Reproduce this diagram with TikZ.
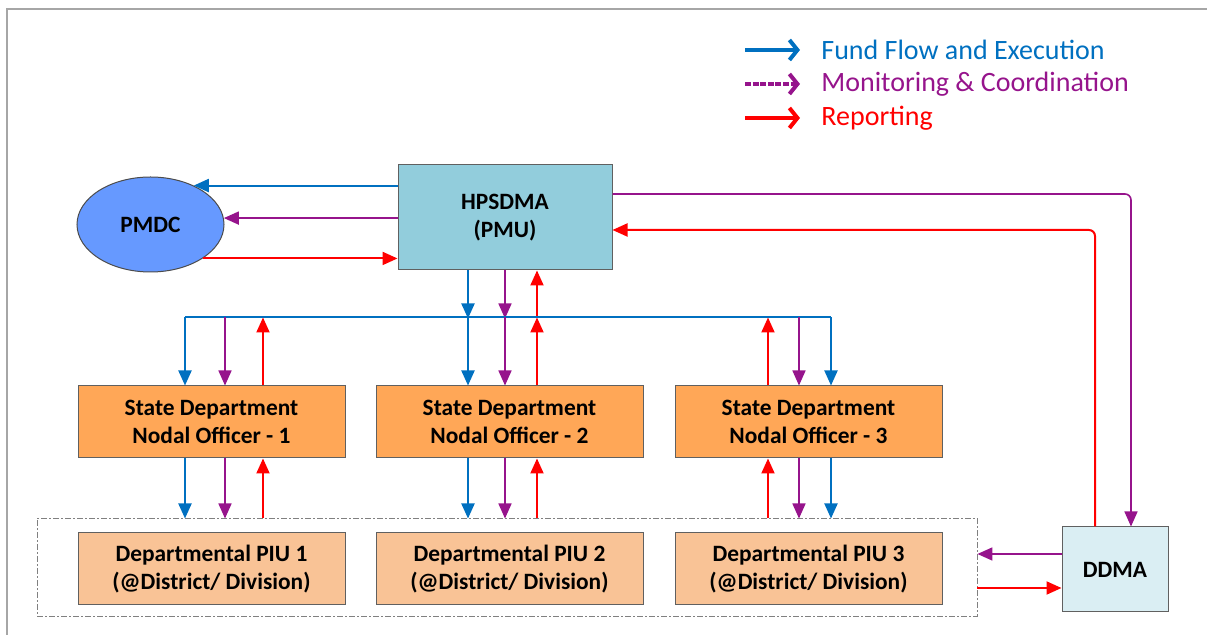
\documentclass[tikz,border=0pt]{standalone}
\usepackage{fontspec}
\setmainfont{Carlito}
\usetikzlibrary{arrows.meta,shapes.geometric}

\definecolor{fundblue}{RGB}{0,112,192}
\definecolor{monpurple}{RGB}{150,20,140}
\definecolor{repred}{RGB}{255,0,0}
\definecolor{pmublue}{RGB}{146,205,220}
\definecolor{pmdcblue}{RGB}{102,153,255}
\definecolor{sdorange}{RGB}{255,167,87}
\definecolor{piupeach}{RGB}{249,195,150}
\definecolor{ddmablue}{RGB}{218,238,243}

\tikzset{
  boxfont/.style={font=\fontsize{11.7}{14}\selectfont\bfseries},
  box/.style={draw=gray!75!black, line width=0.5pt, boxfont, align=center,
    inner sep=0pt, minimum width=133.5pt, minimum height=36pt},
  sdbox/.style={box, fill=sdorange},
  piubox/.style={box, fill=piupeach},
  pmubox/.style={box, fill=pmublue, minimum width=107pt, minimum height=52.5pt},
  ddmabox/.style={box, fill=ddmablue, minimum width=53pt, minimum height=42.5pt},
  pmdcell/.style={ellipse, draw=gray!60!black, line width=0.5pt, fill=pmdcblue,
    boxfont, inner sep=0pt, minimum width=73.5pt, minimum height=47.5pt},
  grpbox/.style={draw=gray, line width=0.4pt,
    dash pattern=on 3pt off 1.2pt on 0.6pt off 1.2pt,
    inner sep=0pt, minimum width=470pt, minimum height=49pt},
  flow/.style={line width=1pt, -{Triangle[length=7.5pt,width=6.5pt]}},
  fund/.style={flow, fundblue},
  mon/.style={flow, monpurple, line width=0.8pt},
  rep/.style={flow, repred},
  legtext/.style={anchor=west, inner sep=0pt, font=\fontsize{14}{16}\selectfont},
  legarrow/.style={line width=2pt, -{Straight Barb[length=4pt,width=10pt]}},
}

\begin{document}
\begin{tikzpicture}[x=0.5pt,y=-0.5pt]
\useasboundingbox (0,0) rectangle (1207,635);
\draw[gray!70, line width=1pt] (1207,9) -- (7,9) -- (7,635);

% legend
\node[legtext, text=fundblue] (lgfund) at (821,50) {Fund Flow and Execution};
\node[legtext, text=monpurple] (lgmon) at (821,84) {Monitoring \& Coordination};
\node[legtext, text=repred] (lgrep) at (821,118) {Reporting};
\draw[legarrow, fundblue] ([xshift=-38pt]lgfund.west) -- ([xshift=-10.5pt]lgfund.west);
\draw[legarrow, monpurple, dash pattern=on 3pt off 0.8pt] ([xshift=-38pt]lgmon.west) -- ([xshift=-10.5pt]lgmon.west);
\draw[legarrow, repred] ([xshift=-38pt]lgrep.west) -- ([xshift=-10.5pt]lgrep.west);

% boxes
\node[pmubox] (pmu) at (505,217.5) {HPSDMA\\(PMU)};
\node[pmdcell] (pmdc) at (150.5,224.5) {PMDC};
\node[grpbox] (grp) at (507,567) {};
\foreach \i/\x in {1/211.5,2/509.5,3/808.5}{
  \node[sdbox] (sd\i) at (\x,422) {State Department\\Nodal Officer - \i};
  \node[piubox] (piu\i) at (\x,569) {Departmental PIU \i\\(@District/ Division)};
}
\node[ddmabox] (ddma) at (1115,569.5) {DDMA};

% PMU and PMDC
\draw[fund] (pmu.west |- pmdc.42) -- (pmdc.42);
\draw[mon] (pmu.west |- pmdc.5) -- (pmdc.5);
\draw[rep] (pmdc.-33) -- (pmdc.-33 -| pmu.west);

% PMU and DDMA
\draw[mon, rounded corners=3pt] ([yshift=11.75pt]pmu.east) -| ([xshift=8pt]ddma.north);
\draw[rep, rounded corners=3pt] ([xshift=-10pt]ddma.north) |- ([yshift=-6.25pt]pmu.east);

% PMU down to the bus
\draw[fund] ([xshift=-18.5pt]pmu.south) -- ++(0,48);
\draw[mon] (pmu.south) -- ++(0,48);
\draw[rep] ([xshift=16pt,yshift=-24pt]pmu.south) -- ([xshift=16pt]pmu.south);
\draw[fundblue, line width=1pt] ([xshift=-13.25pt,yshift=34pt]sd1.north) -- ([xshift=11.25pt,yshift=34pt]sd3.north);

\foreach \i/\a/\b/\c in {1/-13.25/6.75/25.75, 2/-20.75/-2.25/13.75, 3/11.25/-4.75/-20.25}{
  \draw[fund] ([xshift=\a pt,yshift=34pt]sd\i.north) -- ([xshift=\a pt]sd\i.north);
  \draw[mon] ([xshift=\b pt,yshift=34pt]sd\i.north) -- ([xshift=\b pt]sd\i.north);
  \draw[rep] ([xshift=\c pt]sd\i.north) -- ([xshift=\c pt,yshift=34pt]sd\i.north);
  \draw[fund] ([xshift=\a pt]sd\i.south) -- ([xshift=\a pt,yshift=-30pt]sd\i.south);
  \draw[mon] ([xshift=\b pt]sd\i.south) -- ([xshift=\b pt,yshift=-30pt]sd\i.south);
  \draw[rep] ([xshift=\c pt,yshift=-30pt]sd\i.south) -- ([xshift=\c pt]sd\i.south);
}

% DDMA and the PIUs
\draw[mon] ([yshift=7.75pt]ddma.west) -- ([yshift=7.75pt]ddma.west -| grp.east);
\draw[rep] ([yshift=-9.25pt]ddma.west -| grp.east) -- ([yshift=-9.25pt]ddma.west);
\end{tikzpicture}
\end{document}
